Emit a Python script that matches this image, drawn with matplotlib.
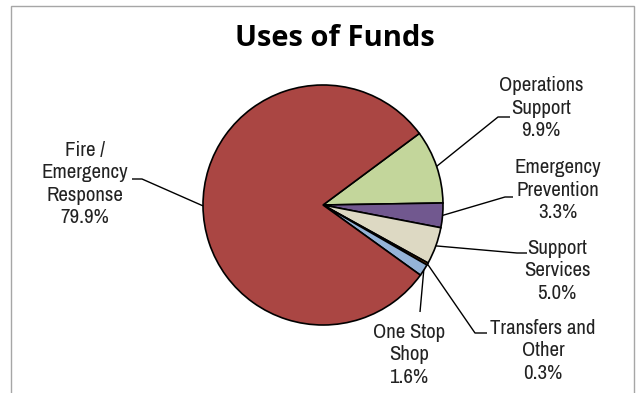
import numpy as np
import matplotlib
matplotlib.use("Agg")
import matplotlib.pyplot as plt
from matplotlib.patches import Rectangle

# slice data, in the order the wedges are laid out clockwise
labels = ["Operations\nSupport", "Emergency\nPrevention", "Support\nServices",
          "Transfers and\nOther", "One Stop\nShop", "Fire /\nEmergency\nResponse"]
shares = [9.9, 3.3, 5.0, 0.3, 1.6, 79.9]
colors = ["#C3D69B", "#71588F", "#DDD9C3", "#984807", "#95B3D7", "#AA4643"]

W, H = 636, 393

fig = plt.figure(figsize=(W / 100, H / 100), dpi=100)
ax = fig.add_axes([0, 0, 1, 1])
ax.set_xlim(0, W)
ax.set_ylim(0, H)
ax.set_aspect("equal")
ax.axis("off")

# outer chart frame
ax.add_patch(Rectangle((11, -5), 623, H - 6 + 5, fill=False,
                       edgecolor="#A6A6A6", linewidth=1.0))

ax.text(335, H - 38, "Uses of Funds", ha="center", va="center",
        fontsize=21, fontweight="bold", family=["Open Sans", "DejaVu Sans"])

cx, cy, r = 323, H - 205, 120
wedges, _ = ax.pie(shares, colors=colors, startangle=36.6, counterclock=False,
                   center=(cx, cy), radius=r,
                   wedgeprops=dict(edgecolor="black", linewidth=1.2))
ax.set_xlim(0, W)
ax.set_ylim(0, H)

# label text centre, elbow point, end of short horizontal tick
layout = [
    ((541, 108), (498, 117), (510, 117)),
    ((558, 190), (505, 197), (513, 197)),
    ((557, 271), (517, 253), (527, 253)),
    ((543, 351), (475, 333), (487, 333)),
    ((409, 355), (420, 312), (420, 312)),
    ((85, 184), (142, 179), (132, 179)),
]

for w, lab, pct, (tpos, elbow, tick) in zip(wedges, labels, shares, layout):
    mid = np.deg2rad((w.theta1 + w.theta2) / 2)
    x0, y0 = cx + r * np.cos(mid), cy + r * np.sin(mid)
    ax.plot([x0, elbow[0], tick[0]], [y0, H - elbow[1], H - tick[1]],
            color="black", linewidth=1.0, solid_capstyle="butt")
    ax.text(tpos[0], H - tpos[1], f"{lab}\n{pct:.1f}%", ha="center", va="center",
            fontsize=15, family=["Archivo Narrow", "DejaVu Sans"],
            linespacing=1.22, color="#222222")

fig.savefig("out.png", dpi=100)
